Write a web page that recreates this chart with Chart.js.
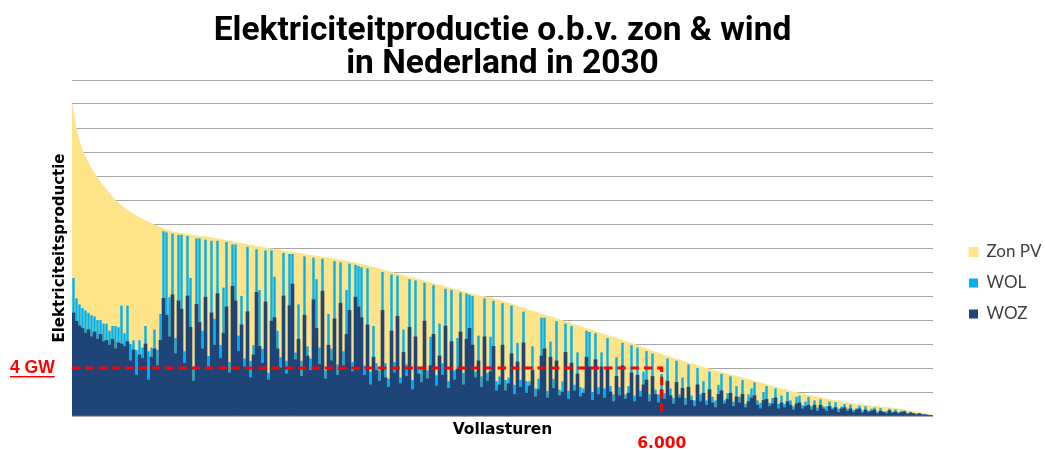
<!DOCTYPE html>
<html><head><meta charset="utf-8">
<script src="https://cdn.jsdelivr.net/npm/chart.js@4.4.1/dist/chart.umd.min.js"></script>
<style>html,body{margin:0;padding:0;background:#fff;}#wrap{width:1045px;height:450px;}</style>
</head><body><div id="wrap"><canvas id="c" width="1045" height="450"></canvas></div>
<script>
const titleLines = ['Elektriciteitproductie o.b.v. zon & wind', 'in Nederland in 2030'];
const seriesNames = ['Zon PV', 'WOL', 'WOZ'];
const xTitle = 'Vollasturen';
const yTitle = 'Elektriciteitsproductie';
const totalHours = 8760;
const yMaxGW = 28;
const yStepGW = 2;
const markerGW = 4;
const markerGWLabel = '4 GW';
const markerHours = 6000;
const markerHoursLabel = '6.000';

// Total production (top of the stack), sorted duration curve: hour -> GW
const curveHours = [0, 20, 41, 71, 112, 173, 244, 336, 437, 590, 814, 1000, 1200, 1455, 1700, 1964, 2420, 2880, 3235, 3690, 4150, 4300, 4620, 4965, 5340, 5710, 6010, 6440, 6900, 7335, 7600, 7885, 8150, 8394, 8600, 8760];
const curveGW = [26.0, 25.0, 24.0, 23.0, 22.0, 21.0, 20.0, 19.0, 18.0, 17.0, 16.0, 15.4, 15.1, 14.8, 14.4, 14.0, 13.4, 12.75, 12.0, 11.0, 10.0, 9.75, 8.9, 8.0, 7.0, 6.0, 5.1, 4.0, 3.0, 2.0, 1.55, 1.1, 0.8, 0.6, 0.3, 0.05];

// Offshore wind (WOZ) per hour-bin, GW
const woz = [
8.6, 7.9, 7.5, 7.3, 6.9, 7.2, 6.6, 7.0, 6.4, 6.8,
6.2, 6.3, 5.9, 6.4, 5.6, 6.1, 6.0, 5.8, 6.2, 4.6,
5.5, 3.4, 5.1, 4.8, 6.0, 3.0, 4.9, 5.6, 4.2, 6.3,
9.8, 8.4, 6.6, 10.1, 5.2, 9.6, 8.9, 4.4, 10.0, 7.4,
2.9, 9.3, 7.8, 5.6, 9.9, 4.1, 8.6, 5.9, 10.2, 4.8,
6.9, 9.1, 3.6, 10.8, 9.6, 5.4, 7.6, 4.1, 8.7, 3.2,
5.1, 10.3, 5.8, 4.4, 9.5, 3.0, 7.9, 8.2, 5.6, 4.0,
10.0, 3.5, 9.2, 11.0, 4.7, 6.4, 3.3, 8.4, 5.0, 3.8,
9.7, 7.3, 4.3, 10.4, 3.1, 5.9, 4.6, 8.1, 3.4, 9.4,
4.2, 6.8, 8.8, 3.7, 9.9, 9.1, 8.2, 3.4, 7.6, 2.6,
4.9, 3.8, 2.9, 8.8, 3.2, 2.4, 7.1, 3.6, 8.3, 2.7,
5.3, 3.3, 7.4, 2.2, 6.6, 3.5, 2.8, 7.9, 3.1, 4.2,
6.8, 2.5, 5.0, 3.4, 7.5, 2.3, 6.2, 3.0, 3.9, 7.0,
2.6, 6.4, 7.3, 5.9, 3.2, 4.6, 2.4, 6.6, 2.9, 3.7,
5.8, 2.1, 2.6, 5.9, 2.1, 2.7, 5.2, 1.8, 4.5, 2.4,
6.1, 1.9, 2.5, 3.8, 1.6, 2.2, 5.0, 5.6, 1.5, 4.9,
2.3, 4.6, 1.7, 2.0, 5.3, 1.4, 4.4, 2.1, 3.5, 1.6,
1.9, 4.9, 4.1, 1.3, 4.7, 1.8, 4.1, 1.5, 3.9, 2.0,
1.2, 3.3, 1.7, 4.2, 1.4, 1.9, 3.6, 1.2, 3.4, 1.6,
2.6, 3.0, 1.2, 3.3, 1.8, 1.1, 2.2, 1.4, 2.9, 1.7,
1.0, 2.8, 1.5, 2.3, 0.9, 2.4, 1.3, 0.8, 2.6, 1.2,
1.9, 0.9, 2.2, 1.1, 0.7, 1.8, 2.1, 1.0, 1.4, 1.9,
0.8, 1.6, 1.1, 1.8, 0.7, 1.2, 1.5, 1.7, 0.9, 0.6,
1.3, 1.4, 0.8, 1.0, 1.5, 0.6, 1.1, 0.7, 1.2, 0.9,
0.5, 1.0, 1.1, 0.6, 0.8, 0.9, 0.5, 0.9, 0.4, 0.9,
0.6, 0.4, 0.8, 0.5, 0.7, 0.3, 0.6, 0.7, 0.4, 0.6,
0.3, 0.5, 0.6, 0.25, 0.5, 0.3, 0.4, 0.5, 0.2, 0.4,
0.3, 0.2, 0.45, 0.25, 0.35, 0.2, 0.3, 0.35, 0.15, 0.25,
0.2, 0.1, 0.2, 0.1, 0.1, 0.06, 0.03
];

// Onshore wind (WOL) per hour-bin, GW
const wol = [
2.9, 1.9, 1.8, 1.7, 1.9, 1.4, 1.8, 1.3, 1.6, 1.2,
1.5, 1.4, 1.2, 1.1, 1.9, 1.3, 3.2, 1.1, 3.0, 1.4,
0.8, 2.1, 1.2, 0.9, 1.5, 2.4, 0.8, 1.6, 1.3, 2.2,
5.6, 6.9, 3.3, 5.1, 1.3, 5.5, 6.2, 1.0, 5.0, 4.1,
1.2, 5.5, 7.0, 1.5, 4.8, 0.9, 6.0, 2.2, 4.4, 1.1,
3.8, 5.4, 0.9, 3.5, 4.7, 1.3, 2.4, 0.7, 5.4, 1.4,
0.8, 3.6, 4.7, 1.2, 4.3, 0.6, 5.9, 3.4, 1.5, 0.9,
3.6, 1.1, 4.3, 2.5, 0.6, 2.9, 1.3, 4.9, 0.8, 1.0,
3.5, 4.1, 1.4, 2.7, 0.7, 2.6, 1.0, 4.8, 0.9, 3.4,
1.2, 3.7, 3.9, 0.8, 2.7, 3.4, 4.2, 0.8, 4.7, 1.1,
2.6, 0.6, 0.9, 3.2, 1.2, 0.7, 4.7, 0.9, 3.4, 0.5,
1.9, 1.0, 4.0, 0.8, 4.7, 0.6, 1.1, 3.2, 0.7, 2.4,
4.1, 0.9, 2.7, 1.0, 3.1, 0.6, 4.3, 0.8, 2.6, 3.3,
1.0, 3.8, 2.8, 4.1, 0.5, 2.1, 0.9, 3.2, 0.7, 2.9,
3.8, 0.8, 0.7, 3.5, 0.9, 0.5, 4.0, 0.8, 1.6, 0.6,
2.6, 1.0, 0.4, 2.0, 0.7, 0.9, 3.2, 2.6, 0.6, 1.3,
0.8, 3.3, 0.5, 0.9, 2.4, 0.7, 3.1, 0.5, 1.8, 0.8,
0.4, 2.2, 2.9, 0.7, 2.2, 0.6, 1.2, 0.8, 2.6, 0.5,
0.6, 1.6, 0.7, 1.9, 0.4, 0.6, 2.3, 0.5, 2.3, 0.5,
1.1, 2.4, 0.6, 1.9, 0.4, 0.7, 1.3, 0.5, 1.9, 0.6,
0.5, 1.8, 0.3, 0.9, 0.6, 1.9, 0.4, 0.5, 1.4, 0.6,
1.0, 0.4, 1.5, 0.5, 0.6, 0.8, 1.4, 0.3, 0.5, 1.4,
0.4, 0.9, 0.5, 1.2, 0.3, 0.6, 0.8, 1.1, 0.4, 0.5,
0.7, 1.1, 0.3, 0.5, 0.8, 0.4, 0.6, 0.3, 0.8, 0.4,
0.3, 0.6, 0.6, 0.3, 0.4, 0.7, 0.3, 0.4, 0.3, 0.5,
0.2, 0.4, 0.4, 0.2, 0.45, 0.3, 0.2, 0.3, 0.2, 0.35,
0.2, 0.15, 0.25, 0.2, 0.3, 0.15, 0.2, 0.2, 0.15, 0.25,
0.1, 0.2, 0.15, 0.1, 0.2, 0.1, 0.15, 0.1, 0.1, 0.1,
0.05, 0.1, 0.04, 0.05, 0.04, 0.04, 0.02
];

const colors = { pv: '#FFE389', wol: '#00B0F0', woz: '#1F4578', marker: '#FF0000' };

// bin centres (hours) for the wind bars
const binHours = woz.map((_, i) => (i + 0.5) * totalHours / woz.length);

// layout helpers
const titleFamily = 'Roboto';
const meas = document.createElement('canvas').getContext('2d');
meas.font = 'bold 100px ' + titleFamily;
const titleSize = 100 * 578 / meas.measureText(titleLines[0]).width;
const legendFontSize = 17;
const legendPad = 14;
meas.font = legendFontSize + 'px Lato';
const legendTextW = Math.max(...seriesNames.map(s => meas.measureText(s).width));
const legendBox = 9;
const legendW = legendBox + legendFontSize / 2 + legendTextW + legendPad + 10;
const spacerW = 22;
const plotRight = 933;
const padRight = 1045 - plotRight - spacerW - legendW;

const markerLabels = {
  id: 'markerLabels',
  afterDraw(chart) {
    const { ctx, scales: { x, y }, chartArea } = chart;
    ctx.save();
    ctx.fillStyle = colors.marker;
    ctx.font = 'bold 17.5px "Liberation Sans"';
    ctx.textBaseline = 'middle';
    ctx.textAlign = 'left';
    const yy = y.getPixelForValue(markerGW);
    ctx.fillText(markerGWLabel, 10, yy);
    const w = ctx.measureText(markerGWLabel).width;
    ctx.fillRect(10, yy + 8, w, 1.5);
    ctx.font = 'bold 15.5px "DejaVu Sans"';
    ctx.textAlign = 'center';
    ctx.fillText(markerHoursLabel, x.getPixelForValue(markerHours), chartArea.bottom + 27.5);
    ctx.restore();
  }
};

new Chart(document.getElementById('c'), {
  data: {
    datasets: [
      { type: 'line', label: 'marker',
        data: [{ x: 0, y: markerGW }, { x: markerHours, y: markerGW }, { x: markerHours, y: 0 }],
        borderColor: colors.marker, borderWidth: 3, borderDash: [8.5, 4.8], pointRadius: 0,
        fill: false, tension: 0, stack: 'marker', order: 0 },
      { type: 'bar', label: 'WOZ', data: binHours.map((h, i) => ({ x: h, y: woz[i] })),
        backgroundColor: colors.woz, borderWidth: 0, barPercentage: 1, categoryPercentage: 1,
        stack: 'wind', order: 1 },
      { type: 'bar', label: 'WOL', data: binHours.map((h, i) => ({ x: h, y: wol[i] })),
        backgroundColor: colors.wol, borderWidth: 0, barPercentage: 0.8, categoryPercentage: 1,
        stack: 'wind', order: 1 },
      { type: 'line', label: 'Zon PV', data: curveHours.map((h, i) => ({ x: h, y: curveGW[i] })),
        borderColor: colors.pv, backgroundColor: colors.pv, borderWidth: 1, pointRadius: 0,
        fill: 'origin', cubicInterpolationMode: 'monotone', stack: 'pv', order: 3 }
    ]
  },
  options: {
    responsive: false,
    devicePixelRatio: 1,
    animation: false,
    events: [],
    layout: { padding: { left: 51, right: padRight, top: 0, bottom: 10.4 } },
    scales: {
      x: {
        type: 'linear', min: 0, max: totalHours, stacked: true, offset: false,
        ticks: { display: false, stepSize: 1000 },
        grid: { display: false, drawTicks: false },
        border: { display: false },
        title: { display: true, text: xTitle, color: '#000',
          font: { family: 'DejaVu Sans', weight: 'bold', size: 15.5, lineHeight: 1.2 },
          padding: { top: 5, bottom: 0 } }
      },
      y: {
        type: 'linear', min: 0, max: yMaxGW, stacked: true,
        ticks: { display: false, stepSize: yStepGW },
        grid: { color: '#a6a6a6', lineWidth: 1, drawTicks: false },
        border: { display: false },
        title: { display: true, text: yTitle, color: '#000',
          font: { family: 'DejaVu Sans', weight: 'bold', size: 15, lineHeight: 1.2 },
          padding: { top: 0, bottom: 3 } }
      },
      spacer: {
        type: 'linear', position: 'right', display: true,
        ticks: { display: false }, grid: { display: false, drawTicks: false },
        border: { display: false },
        title: { display: true, text: '', font: { size: spacerW, lineHeight: 1 }, padding: 0 }
      }
    },
    plugins: {
      tooltip: { enabled: false },
      title: {
        display: true, text: titleLines, color: '#000', fullSize: false,
        font: { family: titleFamily, weight: 'bold', size: titleSize, lineHeight: 33 / titleSize },
        padding: { top: 15, bottom: -1 }
      },
      legend: {
        position: 'right', align: 'center',
        title: { display: true, text: ' ', font: { size: 12, lineHeight: 1.2 }, padding: { top: 0, bottom: 112 } },
        labels: {
          boxWidth: legendBox, boxHeight: legendBox, padding: legendPad, color: '#404040',
          font: { family: 'Lato', size: legendFontSize },
          filter: item => seriesNames.includes(item.text),
          sort: (a, b) => seriesNames.indexOf(a.text) - seriesNames.indexOf(b.text)
        }
      }
    }
  },
  plugins: [markerLabels]
});
</script>
</body></html>
